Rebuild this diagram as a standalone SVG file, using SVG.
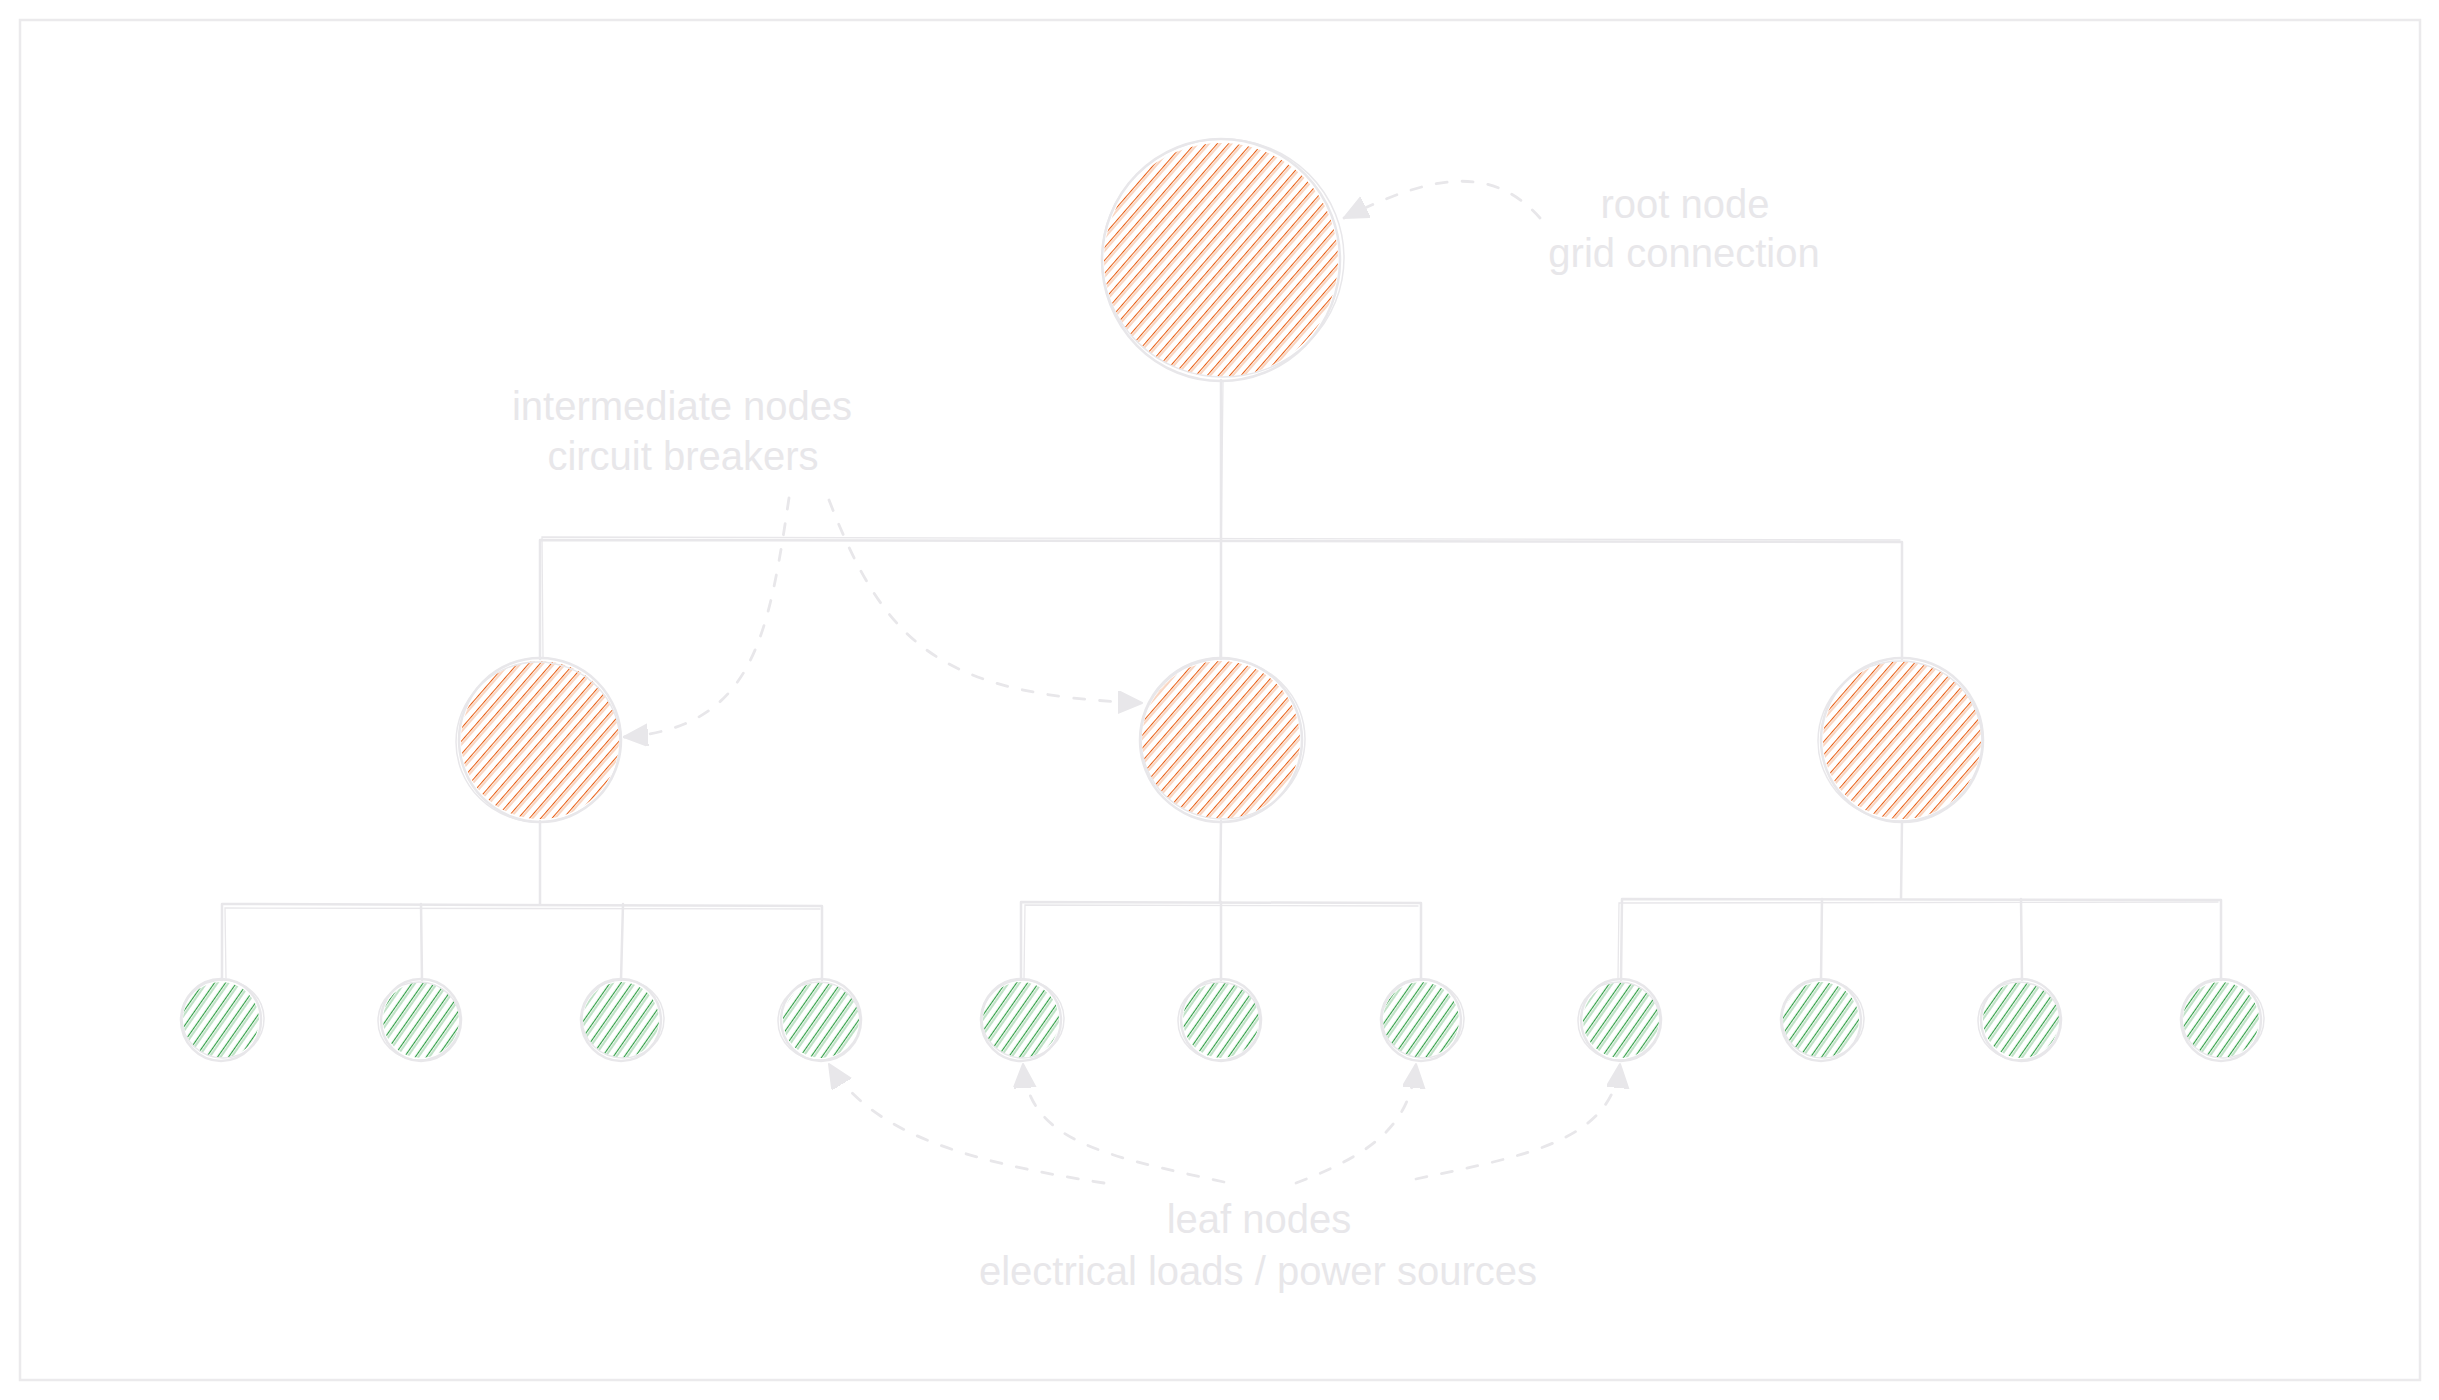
<svg xmlns="http://www.w3.org/2000/svg" width="2439" height="1400" viewBox="0 0 2439 1400">
<style>
.frame{fill:none;stroke:#ebeaec;stroke-width:2.5}
.ol{fill:none;stroke:#e8e7ea;stroke-width:2.5;stroke-linecap:round}
.ol2{fill:none;stroke:#e8e7ea;stroke-width:1.5;stroke-linecap:round}
.ln{fill:none;stroke:#e8e7ea;stroke-width:2.5;stroke-linecap:round;stroke-linejoin:round}
.ln2{fill:none;stroke:#e8e7ea;stroke-width:1.3;stroke-linecap:round}
.ann{fill:none;stroke:#e8e7ea;stroke-width:2.8;stroke-linecap:round;stroke-dasharray:11 15;marker-end:url(#tri)}
.lbl{font-family:"Liberation Sans","Noto Sans",sans-serif;font-size:40px;fill:#e8e7ea;text-anchor:middle}
.or{fill:url(#hOrange)}
.gr{fill:url(#hGreen)}
</style>
<defs>
<pattern id="hOrange" patternUnits="userSpaceOnUse" width="20" height="8.5" patternTransform="rotate(-49)">
<line x1="0" y1="1.5" x2="20" y2="1.5" stroke="#e8590c" stroke-width="1.05"/>
<line x1="0" y1="3.8" x2="20" y2="3.8" stroke="#e8590c" stroke-width="0.7" stroke-opacity="0.7"/>
</pattern>
<pattern id="hGreen" patternUnits="userSpaceOnUse" width="20" height="9" patternTransform="rotate(-55)">
<line x1="0" y1="1.5" x2="20" y2="1.5" stroke="#2f9e44" stroke-width="1.2"/>
<line x1="0" y1="4" x2="20" y2="4" stroke="#2f9e44" stroke-width="0.8" stroke-opacity="0.75"/>
</pattern>
<marker id="tri" markerUnits="userSpaceOnUse" markerWidth="30" markerHeight="26" refX="24" refY="11" orient="auto">
<path d="M0,0 L24,11 L0,22 Z" fill="#e8e7ea" stroke="#e8e7ea" stroke-width="2" stroke-linejoin="round"/>
</marker>
</defs>
<rect class="frame" x="20" y="20" width="2400" height="1360"/>
<g id="connectors">
<path class="ln" d="M1221,380 L1221,659"/>
<path class="ln2" d="M1223,382 L1220,657"/>
<path class="ln" d="M540,659 L540,540 L1902,542 L1902,659"/>
<path class="ln2" d="M543,657 L542,537 L1900,540"/>
<path class="ln" d="M540,821 L540,904"/>
<path class="ln" d="M222,980 L222,904 L822,906 L822,980"/>
<path class="ln2" d="M226,978 L225,908 L820,909"/>
<path class="ln" d="M421,904 L422,980"/>
<path class="ln" d="M623,904 L621,980"/>
<path class="ln" d="M1221,821 L1220,902"/>
<path class="ln" d="M1021,980 L1021,902 L1421,903 L1421,980"/>
<path class="ln2" d="M1024,979 L1025,905 L1418,906"/>
<path class="ln" d="M1221,902 L1221,980"/>
<path class="ln" d="M1902,821 L1901,899"/>
<path class="ln" d="M1621,980 L1622,899 L2221,900 L2221,980"/>
<path class="ln2" d="M1618,978 L1619,903 L2218,902"/>
<path class="ln" d="M1822,899 L1821,980"/>
<path class="ln" d="M2021,899 L2022,980"/>
<path class="ann" d="M1540,218 C1495,168 1440,170 1344,218"/>
<path class="ann" d="M789,498 C768,640 752,728 624,737"/>
<path class="ann" d="M829,500 C885,645 940,695 1142,703"/>
<path class="ann" d="M1104,1183 C955,1160 870,1130 829,1064"/>
<path class="ann" d="M1224,1182 C1100,1155 1028,1140 1023,1064"/>
<path class="ann" d="M1296,1183 C1378,1152 1410,1122 1416,1064"/>
<path class="ann" d="M1416,1179 C1530,1155 1612,1140 1620,1064"/>
</g>
<g id="root">
<circle class="or" cx="1221" cy="260" r="117"/>
<ellipse class="ol" cx="1221" cy="260" rx="119" ry="121"/>
<ellipse class="ol2" cx="1223" cy="258" rx="121" ry="119"/>
</g>
<g id="int1">
<circle class="or" cx="540" cy="740" r="79"/>
<ellipse class="ol" cx="540" cy="740" rx="81" ry="82"/>
<ellipse class="ol2" cx="538" cy="742" rx="82" ry="80"/>
</g>
<g id="int2">
<circle class="or" cx="1221" cy="740" r="79"/>
<ellipse class="ol" cx="1221" cy="740" rx="81" ry="82"/>
<ellipse class="ol2" cx="1223" cy="739" rx="82" ry="80"/>
</g>
<g id="int3">
<circle class="or" cx="1902" cy="740" r="79"/>
<ellipse class="ol" cx="1902" cy="740" rx="81" ry="82"/>
<ellipse class="ol2" cx="1900" cy="741" rx="82" ry="80"/>
</g>
<g id="leaf1"><circle class="gr" cx="221" cy="1020" r="38"/><ellipse class="ol" cx="221" cy="1020" rx="40" ry="41"/><ellipse class="ol2" cx="223" cy="1019" rx="41" ry="39"/></g>
<g id="leaf2"><circle class="gr" cx="421" cy="1020" r="38"/><ellipse class="ol" cx="421" cy="1020" rx="40" ry="41"/><ellipse class="ol2" cx="419" cy="1021" rx="41" ry="39"/></g>
<g id="leaf3"><circle class="gr" cx="621" cy="1020" r="38"/><ellipse class="ol" cx="621" cy="1020" rx="40" ry="41"/><ellipse class="ol2" cx="623" cy="1019" rx="41" ry="39"/></g>
<g id="leaf4"><circle class="gr" cx="821" cy="1020" r="38"/><ellipse class="ol" cx="821" cy="1020" rx="40" ry="41"/><ellipse class="ol2" cx="819" cy="1021" rx="41" ry="39"/></g>
<g id="leaf5"><circle class="gr" cx="1021" cy="1020" r="38"/><ellipse class="ol" cx="1021" cy="1020" rx="40" ry="41"/><ellipse class="ol2" cx="1023" cy="1019" rx="41" ry="39"/></g>
<g id="leaf6"><circle class="gr" cx="1221" cy="1020" r="38"/><ellipse class="ol" cx="1221" cy="1020" rx="40" ry="41"/><ellipse class="ol2" cx="1219" cy="1021" rx="41" ry="39"/></g>
<g id="leaf7"><circle class="gr" cx="1421" cy="1020" r="38"/><ellipse class="ol" cx="1421" cy="1020" rx="40" ry="41"/><ellipse class="ol2" cx="1423" cy="1019" rx="41" ry="39"/></g>
<g id="leaf8"><circle class="gr" cx="1621" cy="1020" r="38"/><ellipse class="ol" cx="1621" cy="1020" rx="40" ry="41"/><ellipse class="ol2" cx="1619" cy="1021" rx="41" ry="39"/></g>
<g id="leaf9"><circle class="gr" cx="1821" cy="1020" r="38"/><ellipse class="ol" cx="1821" cy="1020" rx="40" ry="41"/><ellipse class="ol2" cx="1823" cy="1019" rx="41" ry="39"/></g>
<g id="leaf10"><circle class="gr" cx="2021" cy="1020" r="38"/><ellipse class="ol" cx="2021" cy="1020" rx="40" ry="41"/><ellipse class="ol2" cx="2019" cy="1021" rx="41" ry="39"/></g>
<g id="leaf11"><circle class="gr" cx="2221" cy="1020" r="38"/><ellipse class="ol" cx="2221" cy="1020" rx="40" ry="41"/><ellipse class="ol2" cx="2223" cy="1019" rx="41" ry="39"/></g>
<g id="label-root">
<text class="lbl" x="1685" y="218">root node</text>
<text class="lbl" x="1684" y="267">grid connection</text>
</g>
<g id="label-intermediate">
<text class="lbl" x="682" y="420">intermediate nodes</text>
<text class="lbl" x="683" y="470">circuit breakers</text>
</g>
<g id="label-leaf">
<text class="lbl" x="1259" y="1233">leaf nodes</text>
<text class="lbl" x="1258" y="1285">electrical loads / power sources</text>
</g>
</svg>
